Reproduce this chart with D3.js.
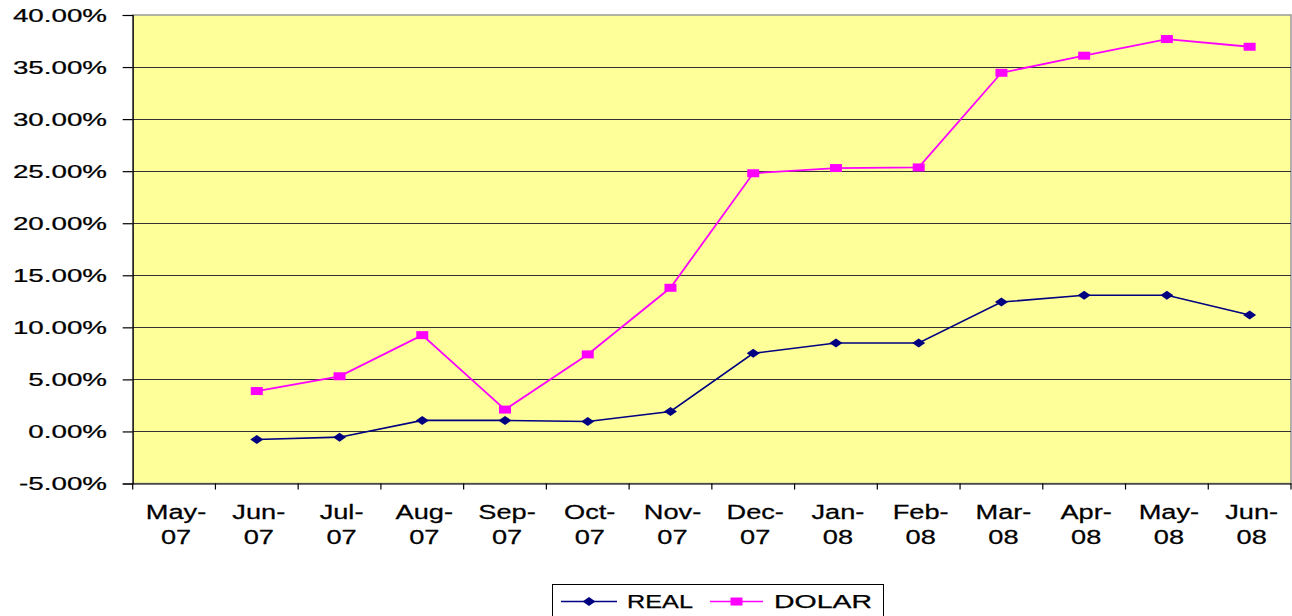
<!DOCTYPE html>
<html>
<head>
<meta charset="utf-8">
<script src="https://cdn.jsdelivr.net/npm/d3@7"></script>
<style>
  html, body { margin: 0; padding: 0; background: #fff; }
  svg { display: block; }
  text { font-family: "Liberation Sans", Arial, sans-serif; fill: #000; stroke: #000; stroke-width: 0.25; }
</style>
</head>
<body>
<svg id="chart" width="1292" height="616"></svg>
<script>
const categories = ["May-07","Jun-07","Jul-07","Aug-07","Sep-07","Oct-07","Nov-07","Dec-07","Jan-08","Feb-08","Mar-08","Apr-08","May-08","Jun-08"];
const realValues  = [null, -0.78, -0.55, 1.06, 1.06, 0.96, 1.92, 7.5, 8.5, 8.5, 12.43, 13.08, 13.08, 11.18];
const dolarValues = [null, 3.88, 5.3, 9.25, 2.1, 7.4, 13.8, 24.8, 25.3, 25.36, 34.45, 36.09, 37.69, 36.95];
const yTicks = [-5, 0, 5, 10, 15, 20, 25, 30, 35, 40];
const seriesNames = ["REAL", "DOLAR"];

const SXY = 1.5, SXX = 1.36; // horizontal text stretch of the original
const svg = d3.select("#chart");
const pLeft = 132.7, pRight = 1291, pTop = 15, pBottom = 483.5;

const x = d3.scaleBand().domain(categories).range([pLeft, pRight]);
const y = d3.scaleLinear().domain([-5, 40]).range([pBottom, pTop]);

// plot background
svg.append("rect").attr("x", pLeft).attr("y", pTop)
  .attr("width", pRight - pLeft).attr("height", pBottom - pTop)
  .attr("fill", "#FFFF99").attr("stroke", "#999").attr("stroke-width", 1.5);

// gridlines
svg.append("g").selectAll("line").data(yTicks.filter(d => d > -5 && d < 40)).join("line")
  .attr("x1", pLeft).attr("x2", pRight)
  .attr("y1", d => Math.round(y(d)) + 0.5).attr("y2", d => Math.round(y(d)) + 0.5)
  .attr("stroke", "#333").attr("stroke-width", 1.2);

// y axis
const yAxis = d3.axisLeft(y).tickValues(yTicks).tickSize(10).tickFormat(() => "");
const gy = svg.append("g").attr("transform", `translate(${pLeft},0)`).call(yAxis);
gy.select(".domain").attr("stroke", "#000").attr("stroke-width", 1.2);
gy.selectAll(".tick line").attr("stroke", "#000").attr("stroke-width", 1.2);
svg.append("g").selectAll("text").data(yTicks).join("text")
  .attr("transform", d => `translate(107,${y(d) + 6.8}) scale(${SXY},1)`)
  .attr("text-anchor", "end").attr("font-size", 18.5)
  .text(d => d.toFixed(2) + "%");

// x axis
const xAxis = d3.axisBottom(x).tickSize(0).tickFormat(() => "");
const gx = svg.append("g").attr("transform", `translate(0,${pBottom})`).call(xAxis);
gx.select(".domain").attr("stroke", "#000").attr("stroke-width", 1.2);
const bounds = categories.map(c => x(c)).concat([pRight]);
svg.append("g").selectAll("line").data(bounds).join("line")
  .attr("x1", d => d).attr("x2", d => d)
  .attr("y1", pBottom).attr("y2", pBottom + 6)
  .attr("stroke", "#000").attr("stroke-width", 1.2);
const xl = svg.append("g").selectAll("g").data(categories).join("g")
  .attr("transform", d => `translate(${x(d) + x.bandwidth() / 2 + 2},0)`);
xl.append("text").attr("transform", `translate(0,519) scale(${SXX},1)`)
  .attr("text-anchor", "middle").attr("font-size", 20)
  .text(d => d.split("-")[0] + "-");
xl.append("text").attr("transform", `translate(0,544) scale(${SXX},1)`)
  .attr("text-anchor", "middle").attr("font-size", 20)
  .text(d => d.split("-")[1]);

const cx = c => x(c) + x.bandwidth() / 2;
const line = d3.line().defined(d => d.v != null).x(d => cx(d.c)).y(d => y(d.v));
const realData = categories.map((c, i) => ({c, v: realValues[i]}));
const dolarData = categories.map((c, i) => ({c, v: dolarValues[i]}));

const diamond = "M-6.5,0L0,-4.5L6.5,0L0,4.5Z";
const square = "M-6,-4H6V4H-6Z";

svg.append("path").datum(realData).attr("d", line)
  .attr("fill", "none").attr("stroke", "#000080").attr("stroke-width", 1.6);
svg.append("path").datum(dolarData).attr("d", line)
  .attr("fill", "none").attr("stroke", "#FF00FF").attr("stroke-width", 1.8);

svg.append("g").selectAll("path").data(realData.filter(d => d.v != null)).join("path")
  .attr("transform", d => `translate(${cx(d.c)},${y(d.v)})`)
  .attr("d", diamond).attr("fill", "#000080");
svg.append("g").selectAll("path").data(dolarData.filter(d => d.v != null)).join("path")
  .attr("transform", d => `translate(${cx(d.c)},${y(d.v)})`)
  .attr("d", square).attr("fill", "#FF00FF");

// legend
const lg = svg.append("g");
lg.append("rect").attr("x", 552.5).attr("y", 584.5).attr("width", 331).attr("height", 40)
  .attr("fill", "#fff").attr("stroke", "#000").attr("stroke-width", 1);
const legendItems = [
  {name: seriesNames[0], color: "#000080", shape: diamond, x1: 561, x2: 617, tx: 627, w: 66},
  {name: seriesNames[1], color: "#FF00FF", shape: square, x1: 710, x2: 763, tx: 774, w: 98}
];
legendItems.forEach(it => {
  lg.append("line").attr("x1", it.x1).attr("x2", it.x2).attr("y1", 601.5).attr("y2", 601.5)
    .attr("stroke", it.color).attr("stroke-width", 1.6);
  lg.append("path").attr("transform", `translate(${(it.x1 + it.x2) / 2},601.5)`)
    .attr("d", it.shape).attr("fill", it.color);
  lg.append("text").attr("x", it.tx).attr("y", 607.5)
    .attr("font-size", 17.5).attr("textLength", it.w).attr("lengthAdjust", "spacingAndGlyphs")
    .text(it.name);
});
</script>
</body>
</html>
